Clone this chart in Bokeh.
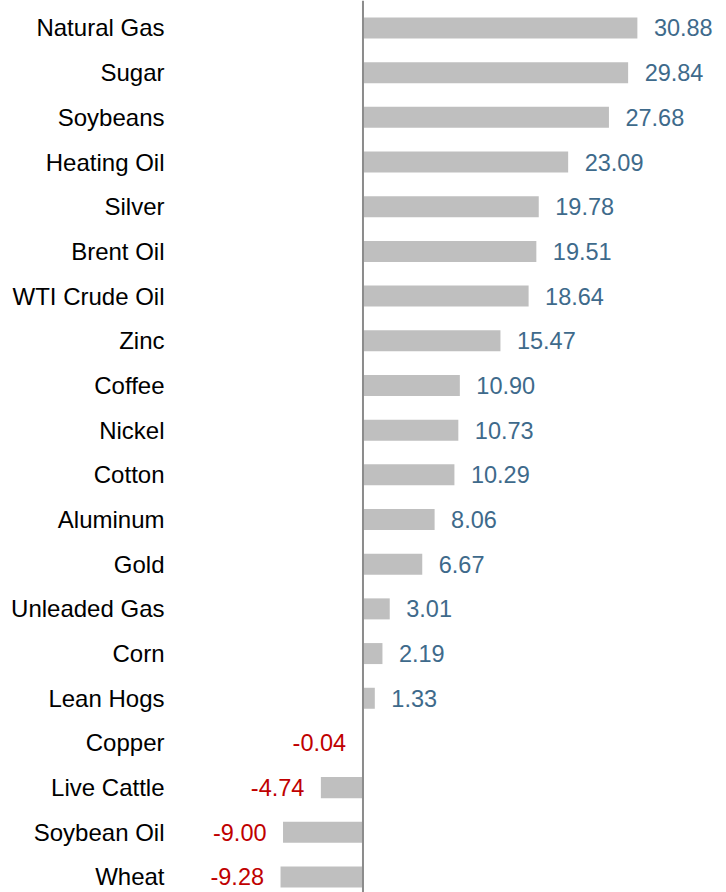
from bokeh.plotting import figure
from bokeh.models import ColumnDataSource, Range1d, FixedTicker, Span
from bokeh.core.properties import value
from bokeh.embed import file_html
from bokeh.resources import INLINE

categories = ["Natural Gas", "Sugar", "Soybeans", "Heating Oil", "Silver", "Brent Oil",
              "WTI Crude Oil", "Zinc", "Coffee", "Nickel", "Cotton", "Aluminum", "Gold",
              "Unleaded Gas", "Corn", "Lean Hogs", "Copper", "Live Cattle", "Soybean Oil", "Wheat"]
values = [30.88, 29.84, 27.68, 23.09, 19.78, 19.51, 18.64, 15.47, 10.90, 10.73, 10.29,
          8.06, 6.67, 3.01, 2.19, 1.33, -0.04, -4.74, -9.00, -9.28]

n = len(categories)
ypos = [n - 1 - i for i in range(n)]

FONT = "Liberation Sans"
BAR = "#bfbfbf"
POS = "#3e6a8b"
NEG = "#c00000"

p = figure(width=726, height=892, output_backend="svg", toolbar_location=None,
           x_range=Range1d(-21.10, 40.91), y_range=Range1d(-0.347, 19.615),
           min_border_left=175, min_border_right=0, min_border_top=0, min_border_bottom=0)

src = ColumnDataSource(dict(y=ypos, v=values, right=[max(v, 0) for v in values],
                            left=[min(v, 0) for v in values]))
p.hbar(y="y", left="left", right="right", height=0.47, source=src,
       fill_color=BAR, line_color=None)

pos_src = ColumnDataSource(dict(y=[ypos[i] for i in range(n) if values[i] >= 0],
                                x=[values[i] for i in range(n) if values[i] >= 0],
                                t=["%.2f" % values[i] for i in range(n) if values[i] >= 0]))
neg_src = ColumnDataSource(dict(y=[ypos[i] for i in range(n) if values[i] < 0],
                                x=[values[i] for i in range(n) if values[i] < 0],
                                t=["%.2f" % values[i] for i in range(n) if values[i] < 0]))
p.text(x="x", y="y", text="t", source=pos_src, x_offset=16.5, text_align="left",
       text_baseline="middle", text_color=POS, text_font=value(FONT), text_font_size="23.5px")
p.text(x="x", y="y", text="t", source=neg_src, x_offset=-16.5, text_align="right",
       text_baseline="middle", text_color=NEG, text_font=value(FONT), text_font_size="23.5px")

p.add_layout(Span(location=0, dimension="height", line_color="#8c8c8c", line_width=2))

p.xaxis.visible = False
p.yaxis.ticker = FixedTicker(ticks=ypos)
p.yaxis.major_label_overrides = {ypos[i]: categories[i] for i in range(n)}
p.yaxis.axis_line_color = None
p.yaxis.major_tick_line_color = None
p.yaxis.minor_tick_line_color = None
p.yaxis.major_tick_out = 0
p.yaxis.major_tick_in = 0
p.yaxis.major_label_standoff = 11
p.yaxis.major_label_text_font = FONT
p.yaxis.major_label_text_font_size = "24px"
p.yaxis.major_label_text_color = "#000000"
p.xgrid.visible = False
p.ygrid.visible = False
p.outline_line_color = None

open("out.html", "w").write(file_html(p, INLINE))
